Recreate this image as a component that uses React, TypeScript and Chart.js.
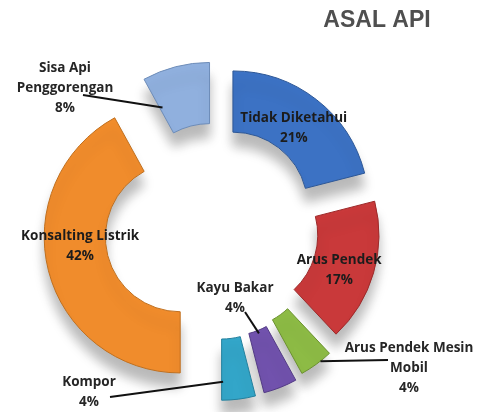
import React, { useEffect, useRef } from 'react';
import { Chart, registerables, DoughnutController } from 'chart.js';

Chart.register(...registerables);

// ---- data ----
const categories = [
  'Tidak Diketahui',
  'Arus Pendek',
  'Arus Pendek Mesin Mobil',
  'Kayu Bakar',
  'Kompor',
  'Konsalting Listrik',
  'Sisa Api Penggorengan',
];
const percentages = [21, 17, 4, 4, 4, 42, 8];
const nameLines = [
  ['Tidak Diketahui'],
  ['Arus Pendek'],
  ['Arus Pendek Mesin', 'Mobil'],
  ['Kayu Bakar'],
  ['Kompor'],
  ['Konsalting Listrik'],
  ['Sisa Api', 'Penggorengan'],
];
const chartTitle = 'ASAL API';

// ---- styles ----
const colors = ['#3c72c4', '#c9393a', '#8dbb45', '#7152ad', '#33a6c9', '#f08c2c', '#90b0de'];
const edgeColors = ['#2d5796', '#9c2a2a', '#6b9130', '#533b85', '#24809d', '#c06f1d', '#6d8cb8'];
// how far each slice is pulled out of the ring (px)
const explode = [26, 27, 33, 36, 37, 38, 30];

// label placement: inside the ring, or outside with a leader line
type LabelSpec =
  | { mode: 'inside'; af: number; rf: number }
  | { mode: 'outside'; x: number; y: number; from: [number, number]; af: number; rf: number };
const labelSpecs: LabelSpec[] = [
  { mode: 'inside', af: 0.5, rf: 0.4 },
  { mode: 'inside', af: 0.56, rf: 0.45 },
  { mode: 'outside', x: 409, y: 348, from: [388, 360], af: 0.35, rf: 1.0 },
  { mode: 'outside', x: 235, y: 288, from: [245, 312], af: 0.5, rf: 0.05 },
  { mode: 'outside', x: 89, y: 382, from: [110, 397], af: 0.95, rf: 0.7 },
  { mode: 'inside', af: 0.56, rf: 0.42 },
  { mode: 'outside', x: 65, y: 68, from: [83, 95], af: 0.05, rf: 0.45 },
];

// Doughnut whose slices are translated outward (pure explosion, no radius growth)
class ExplodedDoughnut extends DoughnutController {
  draw() {
    const ctx = this.chart.ctx;
    const ds: any = this.getDataset();
    const shifts: number[] = ds.explode || [];
    const arcs: any[] = (this as any)._cachedMeta.data;
    arcs.forEach((arc: any, i: number) => {
      const a = (arc.startAngle + arc.endAngle) / 2;
      const s = shifts[i] || 0;
      ctx.save();
      ctx.translate(Math.cos(a) * s, Math.sin(a) * s);
      arc.draw(ctx);
      ctx.restore();
    });
  }
}
(ExplodedDoughnut as any).id = 'explodedDoughnut';
(ExplodedDoughnut as any).defaults = (DoughnutController as any).defaults;
(ExplodedDoughnut as any).overrides = (DoughnutController as any).overrides;
Chart.register(ExplodedDoughnut as any);

function arcGeom(chart: any, i: number) {
  const meta = chart.getDatasetMeta(0);
  const arc: any = meta.data[i];
  const p = arc.getProps(['x', 'y', 'startAngle', 'endAngle', 'innerRadius', 'outerRadius'], true);
  const s = explode[i] || 0;
  const half = (p.startAngle + p.endAngle) / 2;
  return {
    cx: p.x + Math.cos(half) * s,
    cy: p.y + Math.sin(half) * s,
    start: p.startAngle,
    end: p.endAngle,
    rIn: p.innerRadius,
    rOut: p.outerRadius,
  };
}

const shadowPlugin = {
  id: 'shadowPlugin',
  beforeDatasetsDraw(chart: any) {
    const ctx = chart.ctx;
    ctx.save();
    ctx.shadowColor = 'rgba(0,0,0,0.28)';
    ctx.shadowBlur = 12;
    ctx.shadowOffsetY = 14;
  },
  afterDatasetsDraw(chart: any) {
    chart.ctx.restore();
  },
};

const labelPlugin = {
  id: 'labelPlugin',
  afterDraw(chart: any) {
    const ctx = chart.ctx;
    ctx.save();
    // title
    ctx.font = 'bold 23px "Liberation Sans", Arial, sans-serif';
    ctx.fillStyle = '#4f4f4f';
    ctx.textAlign = 'center';
    ctx.textBaseline = 'middle';
    ctx.fillText(chartTitle, 377, 21);

    ctx.font = 'bold 13.5px "Open Sans", sans-serif';
    const lh = 20;
    percentages.forEach((v, i) => {
      const g = arcGeom(chart, i);
      const spec = labelSpecs[i];
      const lines = [...nameLines[i], `${v}%`];
      const a = g.start + (g.end - g.start) * spec.af;
      const r = g.rIn + (g.rOut - g.rIn) * spec.rf;
      const px = g.cx + Math.cos(a) * r;
      const py = g.cy + Math.sin(a) * r;
      if (spec.mode === 'inside') {
        ctx.fillStyle = '#1c1c1c';
        lines.forEach((t, k) => ctx.fillText(t, px, py + (k - (lines.length - 1) / 2) * lh));
      } else {
        ctx.strokeStyle = '#111';
        ctx.lineWidth = 2;
        ctx.beginPath();
        ctx.moveTo(spec.from[0], spec.from[1]);
        ctx.lineTo(px, py);
        ctx.stroke();
        ctx.fillStyle = '#262626';
        lines.forEach((t, k) => ctx.fillText(t, spec.x, spec.y + k * lh));
      }
    });
    ctx.restore();
  },
};

export default function App() {
  const ref = useRef<HTMLCanvasElement | null>(null);
  useEffect(() => {
    if (!ref.current) return;
    const chart = new Chart(ref.current, {
      type: 'explodedDoughnut' as any,
      data: {
        labels: categories,
        datasets: [
          {
            data: percentages,
            backgroundColor: colors,
            borderColor: edgeColors,
            borderWidth: 1,
            explode,
          } as any,
        ],
      },
      options: {
        responsive: false,
        animation: false,
        radius: 136,
        cutout: '55%',
        layout: { padding: { left: 0, right: 54, top: 43, bottom: 0 } },
        plugins: { legend: { display: false }, tooltip: { enabled: false }, title: { display: false } },
      } as any,
      plugins: [shadowPlugin, labelPlugin],
    });
    return () => chart.destroy();
  }, []);
  return (
    <div style={{ position: 'absolute', left: 0, top: 0, width: 488, height: 412, background: '#fff' }}>
      <canvas ref={ref} width={488} height={412} style={{ display: 'block' }} />
    </div>
  );
}
